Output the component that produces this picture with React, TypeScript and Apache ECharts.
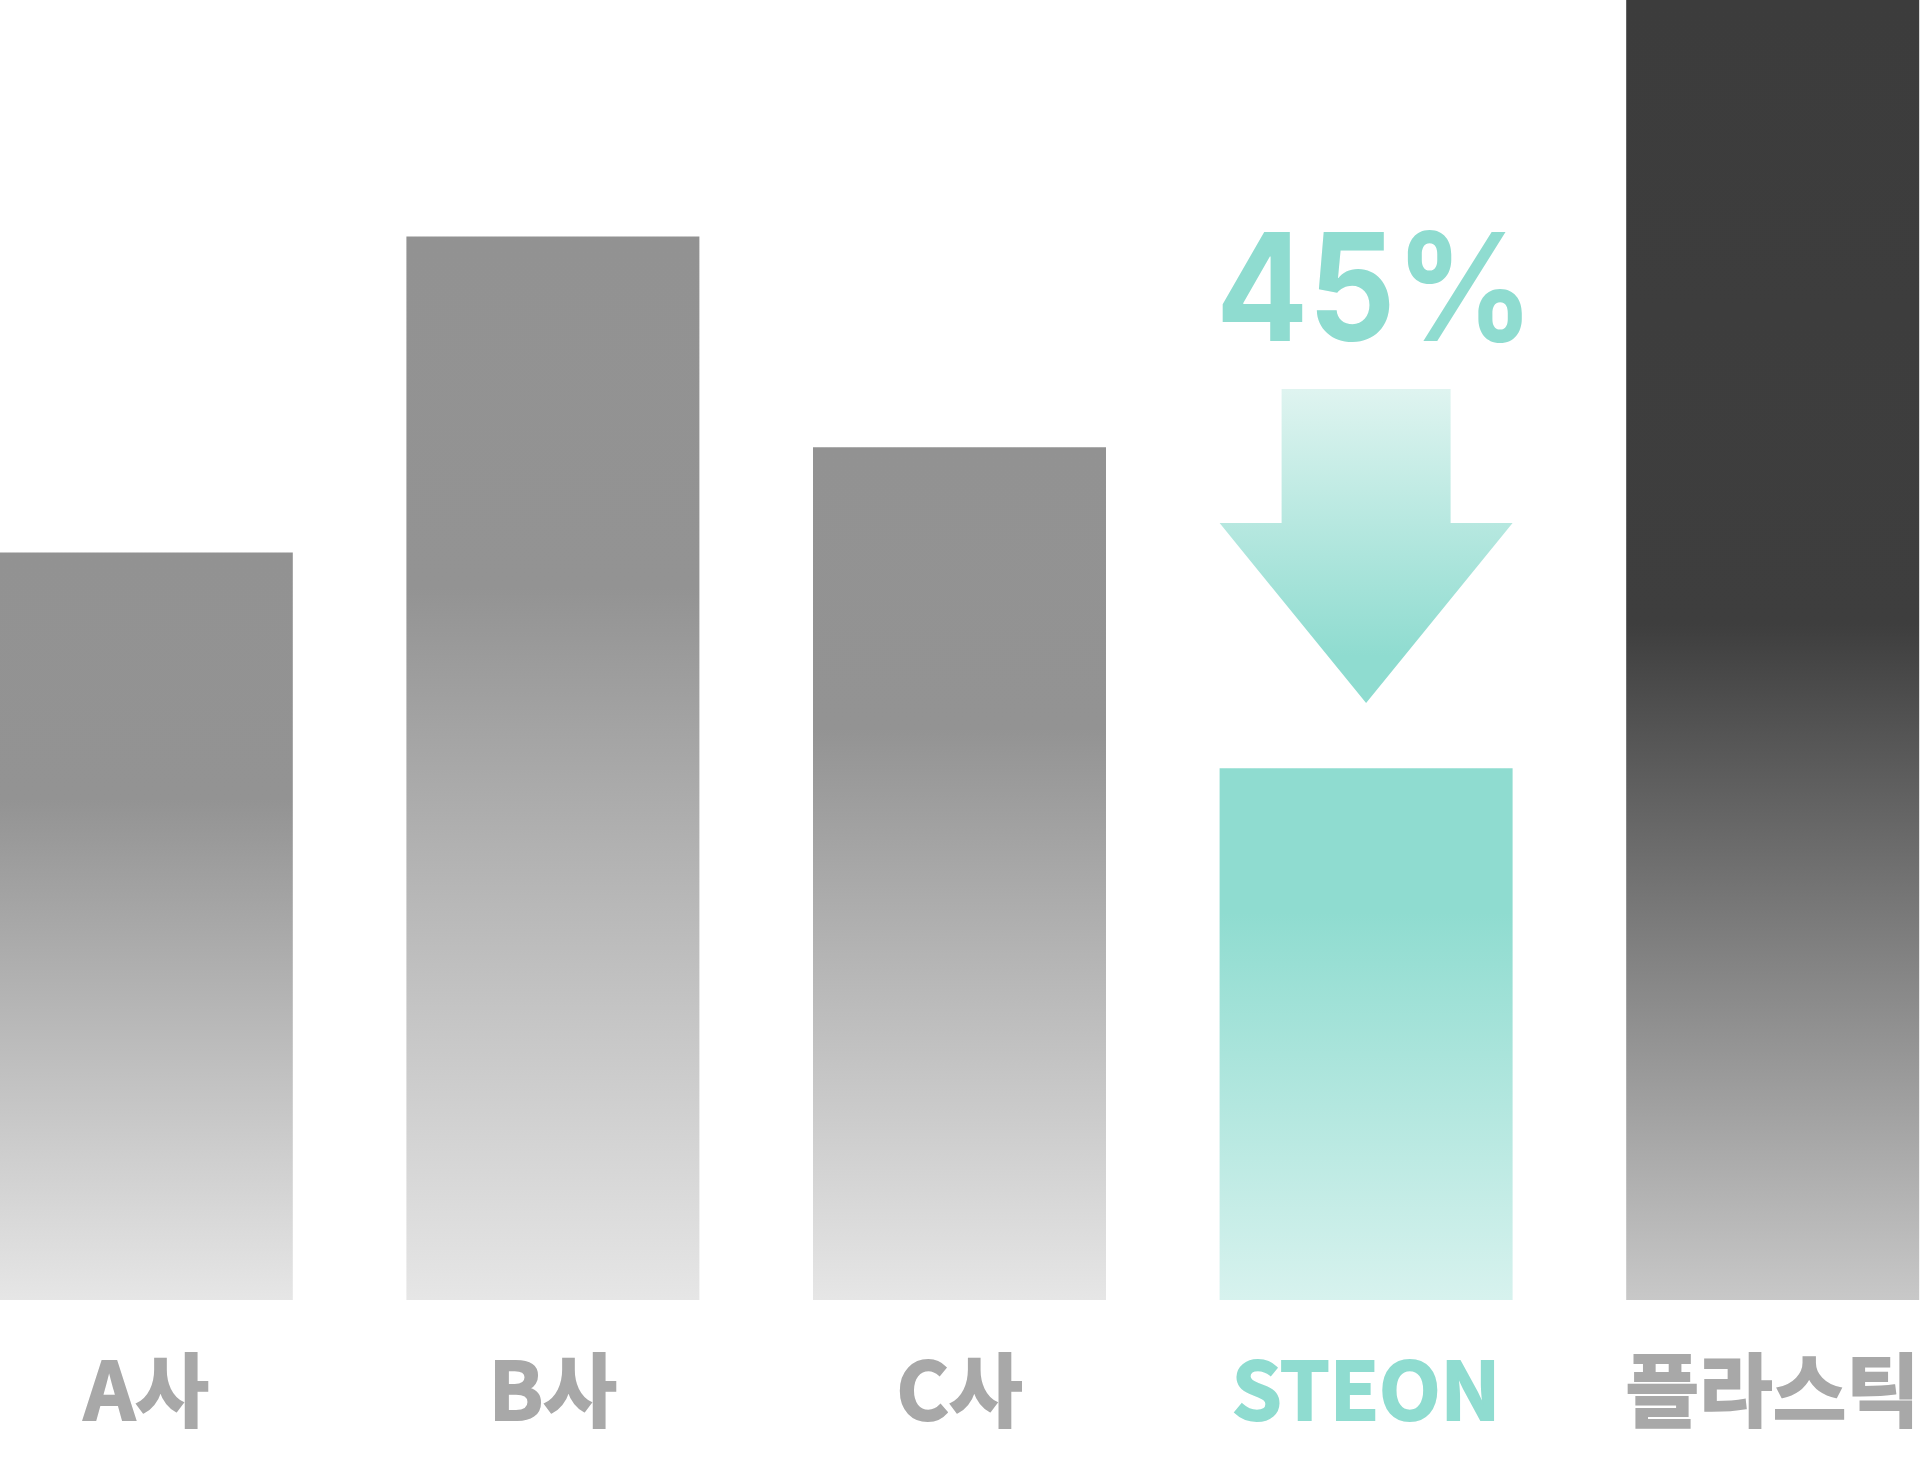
import React, { useEffect, useRef } from "react";
import * as echarts from "echarts";

const categories = ["A사", "B사", "C사", "STEON", "플라스틱"];
const values = [57.5, 81.8, 65.6, 40.9, 100];
const highlightCategory = "STEON";
const reductionLabel = "45%";

const GRAY_LABEL = "#a8a8a8";
const MINT = "#8fdcd0";
const OFFSET_X = 57;

function grayGrad() {
  return new echarts.graphic.LinearGradient(0, 0, 0, 1, [
    { offset: 0, color: "#929292" },
    { offset: 0.33, color: "#939393" },
    { offset: 1, color: "#e6e6e6" },
  ]);
}
function mintGrad() {
  return new echarts.graphic.LinearGradient(0, 0, 0, 1, [
    { offset: 0, color: "#8fdcd0" },
    { offset: 0.27, color: "#8fdcd0" },
    { offset: 1, color: "#d7f2ee" },
  ]);
}
function darkGrad() {
  return new echarts.graphic.LinearGradient(0, 0, 0, 1, [
    { offset: 0, color: "#3c3c3c" },
    { offset: 0.48, color: "#3e3e3e" },
    { offset: 1, color: "#c8c8c8" },
  ]);
}

export default function App() {
  const ref = useRef<HTMLDivElement>(null);
  useEffect(() => {
    if (!ref.current) return;
    const chart = echarts.init(ref.current, null, { renderer: "svg" });
    const styles = [grayGrad(), grayGrad(), grayGrad(), mintGrad(), darkGrad()];
    const labelFont = "'Noto Sans CJK KR', 'Noto Sans', sans-serif";
    chart.setOption({
      animation: false,
      backgroundColor: "#ffffff",
      grid: { left: 0, right: 0, top: 0, bottom: 166 },
      xAxis: {
        type: "category",
        data: categories.map((c) => {
          const col = c === highlightCategory ? MINT : GRAY_LABEL;
          return {
            value: c,
            textStyle: {
              color: col,
              fontWeight: "bold",
              fontSize: 80,
              fontFamily: labelFont,
              textBorderColor: col,
              textBorderWidth: 2,
            },
          };
        }),
        axisLine: { show: false },
        axisTick: { show: false },
        axisLabel: {
          margin: 45,
          fontSize: 80,
          lineHeight: 80,
          fontWeight: "bold",
          fontFamily: labelFont,
          interval: 0,
        },
      },
      yAxis: {
        type: "value",
        min: 0,
        max: 100,
        show: false,
        splitLine: { show: false },
      },
      series: [
        {
          type: "bar",
          barWidth: 293,
          data: values.map((v, i) => ({ value: v, itemStyle: { color: styles[i] } })),
          silent: true,
        },
      ],
    });
    const idx = categories.indexOf(highlightCategory);
    const cx = chart.convertToPixel({ xAxisIndex: 0 }, idx) as number;
    const top = 389;
    const neck = 523;
    const tip = 703;
    chart.setOption({
      graphic: [
        {
          type: "polygon",
          shape: {
            points: [
              [cx - 84.5, top],
              [cx + 84.5, top],
              [cx + 84.5, neck],
              [cx + 146.5, neck],
              [cx, tip],
              [cx - 146.5, neck],
              [cx - 84.5, neck],
            ],
          },
          style: {
            fill: new echarts.graphic.LinearGradient(0, 0, 0, 1, [
              { offset: 0, color: "#dff4f0" },
              { offset: 0.85, color: "#8fdcd0" },
              { offset: 1, color: "#8fdcd0" },
            ]),
          },
        },
        {
          type: "text",
          x: cx + 9,
          y: 287,
          scaleX: 0.91,
          style: {
            text: reductionLabel,
            fill: MINT,
            font: "bold 150px Inter, Roboto, sans-serif",
            textAlign: "center",
            textVerticalAlign: "middle",
          },
        },
      ],
    });
    return () => chart.dispose();
  }, []);
  return (
    <div
      style={{
        position: "absolute",
        left: 0,
        top: 0,
        width: 1920,
        height: 1466,
        overflow: "hidden",
        background: "#fff",
      }}
    >
      <div
        ref={ref}
        style={{ position: "absolute", left: -OFFSET_X, top: 0, width: 2033, height: 1466 }}
      />
    </div>
  );
}
